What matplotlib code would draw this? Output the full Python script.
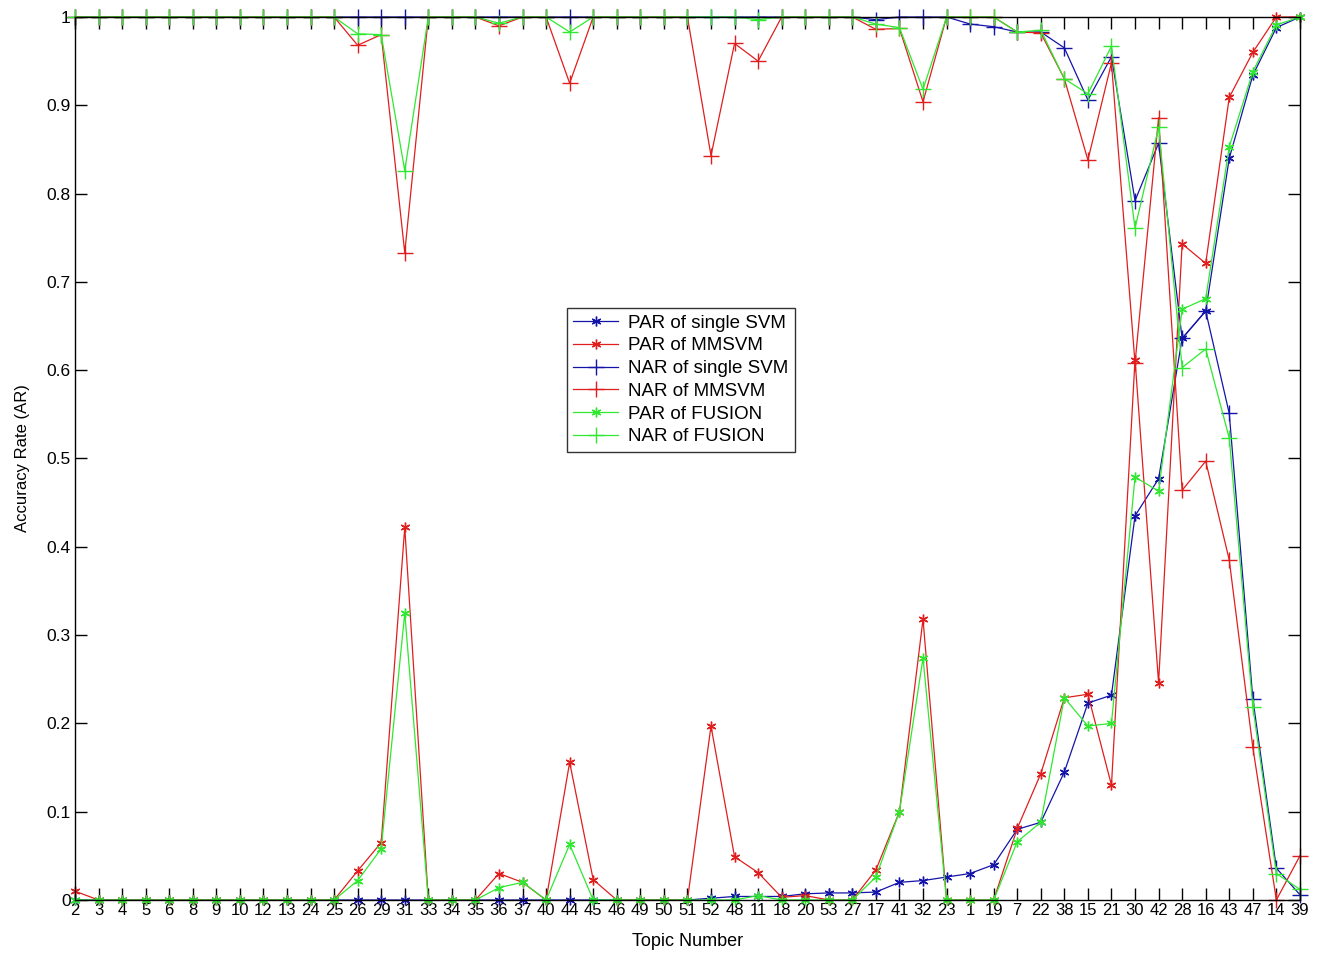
import matplotlib
matplotlib.use("Agg")
import matplotlib.pyplot as plt
import numpy as np

plt.rcParams['font.family'] = ['Liberation Sans', 'DejaVu Sans']

# Topic order along the x axis.
topics = [2, 3, 4, 5, 6, 8, 9, 10, 12, 13, 24, 25, 26, 29, 31, 33, 34, 35, 36, 37,
          40, 44, 45, 46, 49, 50, 51, 52, 48, 11, 18, 20, 53, 27, 17, 41, 32, 23, 1, 19,
          7, 22, 38, 15, 21, 30, 42, 28, 16, 43, 47, 14, 39]

# Positive / negative accuracy rates.
par_svm = [0]*27 + [0.002, 0.004, 0.004, 0.004, 0.007, 0.008, 0.008, 0.009, 0.02, 0.022,
                    0.026, 0.03, 0.04, 0.08, 0.088, 0.145, 0.223, 0.232, 0.435, 0.477,
                    0.636, 0.667, 0.84, 0.934, 0.988, 1.0]
par_mm = [0.01] + [0]*11 + [0.033, 0.065, 0.422, 0, 0, 0, 0.03, 0.02,
                            0, 0.156, 0.023, 0, 0, 0, 0, 0.197, 0.049, 0.031,
                            0.003, 0.005, 0, 0, 0.034, 0.1, 0.318, 0, 0, 0,
                            0.081, 0.143, 0.229, 0.233, 0.13, 0.612, 0.246, 0.743, 0.721, 0.909,
                            0.96, 1.0, 1.0]
nar_svm = [1.0]*34 + [0.997, 1.0, 1.0, 1.0, 0.992, 0.989,
                      0.983, 0.983, 0.965, 0.906, 0.955, 0.792, 0.857, 0.636, 0.667, 0.551,
                      0.228, 0.036, 0.006]
nar_mm = [1.0]*12 + [0.968, 0.98, 0.733, 1, 1, 1, 0.99, 1,
                     1, 0.925, 1, 1, 1, 1, 1, 0.843, 0.97, 0.95,
                     1, 1, 1, 1, 0.986, 0.987, 0.904, 1, 1, 1,
                     0.983, 0.982, 0.93, 0.838, 0.948, 0.608, 0.886, 0.464, 0.497, 0.385,
                     0.173, 0.0, 0.05]
par_fu = [0]*12 + [0.022, 0.058, 0.325, 0, 0, 0, 0.014, 0.02,
                   0, 0.063, 0, 0, 0, 0, 0, 0, 0, 0.005,
                   0, 0, 0, 0, 0.026, 0.1, 0.274, 0, 0, 0,
                   0.066, 0.088, 0.229, 0.197, 0.2, 0.479, 0.463, 0.669, 0.681, 0.853,
                   0.938, 0.991, 1.0]
nar_fu = [1.0]*12 + [0.981, 0.98, 0.826, 1, 1, 1, 0.993, 1,
                     1, 0.983, 1, 1, 1, 1, 1, 1, 1, 0.997,
                     1, 1, 1, 1, 0.992, 0.988, 0.918, 1, 1, 1,
                     0.983, 0.985, 0.93, 0.913, 0.967, 0.761, 0.875, 0.603, 0.624, 0.523,
                     0.219, 0.03, 0.012]

blue = '#1414a8'
red = '#e01e1e'
green = '#30e830'
star = (6, 2, 0)

fig = plt.figure(figsize=(13.22, 9.55), dpi=100)
ax = fig.add_axes([0.0567, 0.0576, 0.9266, 0.9246])

x = np.arange(1, len(topics) + 1)
series = [
    (par_svm, blue, star, 7, "PAR of single SVM"),
    (par_mm, red, star, 7, "PAR of MMSVM"),
    (nar_svm, blue, '+', 11, "NAR of single SVM"),
    (nar_mm, red, '+', 11, "NAR of MMSVM"),
    (par_fu, green, star, 7, "PAR of FUSION"),
    (nar_fu, green, '+', 11, "NAR of FUSION"),
]
for vals, col, mk, ms, lab in series:
    ax.plot(x, vals, color=col, marker=mk, markersize=ms, linewidth=0.9,
            markeredgewidth=1.0, label=lab, clip_on=False)

ax.set_xlim(1, len(topics))
ax.set_ylim(0, 1)
ax.set_xticks(x)
ax.set_xticklabels([str(t) for t in topics])
ax.set_yticks(np.arange(0, 11) / 10)
ax.set_yticklabels(["0"] + ["%.1f" % v for v in np.arange(1, 10) / 10] + ["1"])
ax.tick_params(direction='in', top=True, right=True, length=8.5, width=1.0, pad=2)
ax.tick_params(axis='x', labelsize=12)
ax.tick_params(axis='y', labelsize=12.5, pad=3)
for s in ax.spines.values():
    s.set_linewidth(1.0)

ax.set_xlabel("Topic Number", fontsize=13, labelpad=11)
ax.set_ylabel("Accuracy Rate (AR)", fontsize=12, labelpad=12)

leg = ax.legend(loc='upper left', bbox_to_anchor=(0.4016, 0.6704), fontsize=13.5,
                frameon=True, fancybox=False, edgecolor='black', handlelength=2.4,
                borderpad=0.35, labelspacing=0.3, handletextpad=0.5, borderaxespad=0)
leg.get_frame().set_linewidth(1.0)

fig.savefig("out.png", dpi=100)
